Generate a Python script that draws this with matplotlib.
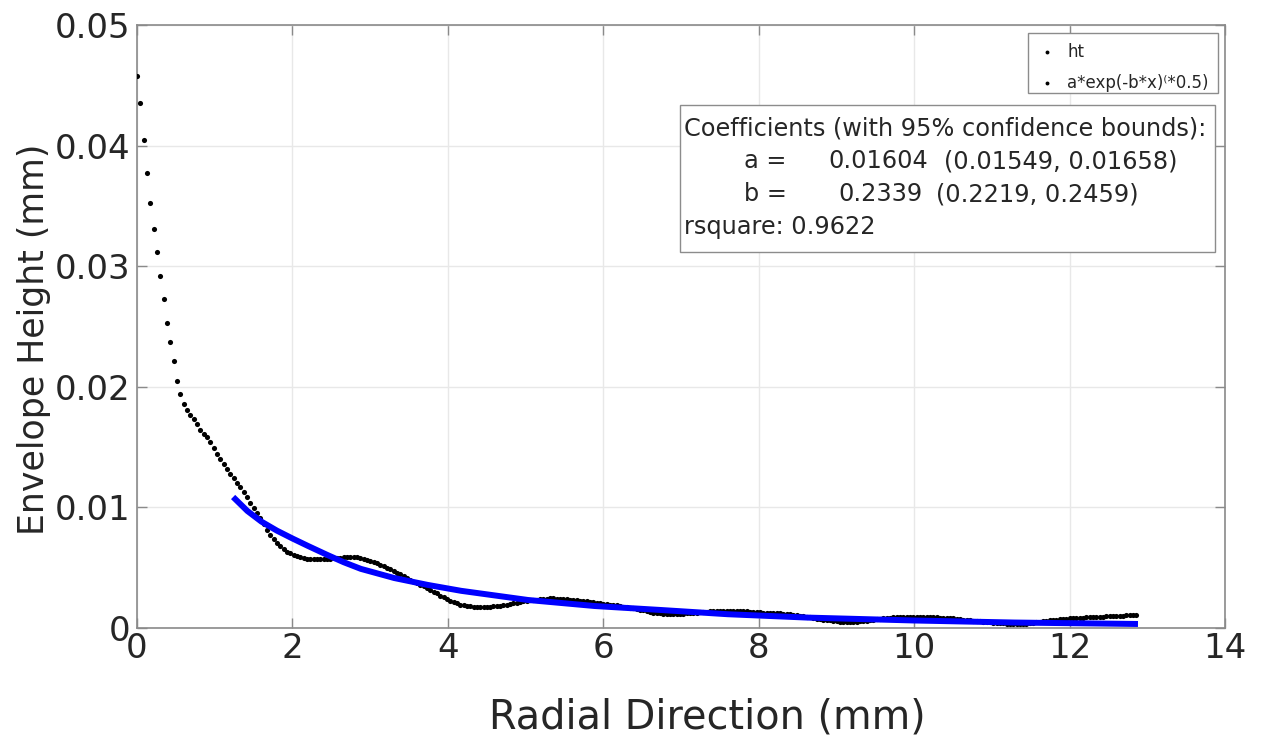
import numpy as np
import matplotlib
matplotlib.use("Agg")
import matplotlib.pyplot as plt
from matplotlib.patches import Rectangle

# Measured envelope height (micrometres), sampled uniformly from 0 to 12.86 mm
ht_um = [
    45.8, 43.5, 40.5, 37.75, 35.2, 33.1, 31.2, 29.2, 27.3, 25.3,
    23.7, 22.1, 20.5, 19.4, 18.6, 18.1, 17.7, 17.3, 16.9, 16.4,
    16.1, 15.85, 15.4, 14.9, 14.45, 14.0, 13.6, 13.15, 12.75, 12.4,
    12.05, 11.65, 11.25, 10.85, 10.4, 9.98, 9.53, 9.08, 8.62, 8.13,
    7.71, 7.36, 7.05, 6.76, 6.55, 6.34, 6.2, 6.08, 5.97, 5.89,
    5.80, 5.76, 5.73, 5.72, 5.71, 5.71, 5.72, 5.72, 5.74, 5.77,
    5.80, 5.83, 5.85, 5.87, 5.89, 5.90, 5.87, 5.82, 5.74, 5.66,
    5.58, 5.51, 5.38, 5.25, 5.12, 4.99, 4.86, 4.72, 4.58, 4.44,
    4.29, 4.16, 3.99, 3.85, 3.72, 3.59, 3.46, 3.33, 3.18, 3.02,
    2.86, 2.69, 2.54, 2.40, 2.25, 2.13, 2.03, 1.94, 1.88, 1.84,
    1.80, 1.77, 1.75, 1.73, 1.72, 1.73, 1.76, 1.79, 1.82, 1.85,
    1.87, 1.93, 1.99, 2.04, 2.10, 2.15, 2.21, 2.26, 2.30, 2.33,
    2.36, 2.39, 2.42, 2.44, 2.45, 2.45, 2.44, 2.42, 2.40, 2.38,
    2.36, 2.33, 2.30, 2.27, 2.24, 2.21, 2.17, 2.13, 2.08, 2.04,
    2.00, 1.96, 1.94, 1.91, 1.87, 1.82, 1.77, 1.72, 1.67, 1.62,
    1.56, 1.51, 1.45, 1.38, 1.32, 1.27, 1.24, 1.21, 1.18, 1.16,
    1.15, 1.15, 1.15, 1.16, 1.18, 1.20, 1.22, 1.25, 1.28, 1.30,
    1.33, 1.35, 1.37, 1.38, 1.39, 1.40, 1.40, 1.41, 1.41, 1.41,
    1.41, 1.40, 1.38, 1.37, 1.35, 1.33, 1.31, 1.29, 1.28, 1.27,
    1.25, 1.24, 1.22, 1.20, 1.18, 1.15, 1.12, 1.09, 1.06, 1.02,
    0.97, 0.93, 0.88, 0.83, 0.78, 0.74, 0.70, 0.66, 0.62, 0.58,
    0.55, 0.52, 0.50, 0.48, 0.47, 0.47, 0.50, 0.54, 0.58, 0.61,
    0.65, 0.69, 0.72, 0.76, 0.79, 0.83, 0.86, 0.88, 0.90, 0.91,
    0.92, 0.93, 0.94, 0.94, 0.94, 0.94, 0.93, 0.92, 0.91, 0.90,
    0.88, 0.86, 0.85, 0.84, 0.82, 0.79, 0.76, 0.73, 0.70, 0.67,
    0.64, 0.60, 0.57, 0.55, 0.52, 0.50, 0.48, 0.45, 0.43, 0.40,
    0.38, 0.36, 0.35, 0.34, 0.33, 0.34, 0.35, 0.37, 0.40, 0.43,
    0.47, 0.51, 0.55, 0.59, 0.63, 0.66, 0.68, 0.71, 0.74, 0.76,
    0.79, 0.81, 0.82, 0.84, 0.86, 0.88, 0.89, 0.91, 0.93, 0.94,
    0.95, 0.97, 0.98, 0.99, 1.00, 1.02, 1.03, 1.04, 1.05, 1.07,
    1.08,
]
radial_mm = np.linspace(0.0, 12.86, len(ht_um))
ht_mm = np.array(ht_um) * 1e-3

# Fitted curve (micrometres)
fit_x_mm = [1.236, 1.42, 1.60, 1.80, 2.0, 2.2, 2.45, 2.66, 2.88, 3.31,
            3.74, 4.17, 5.03, 5.89, 6.74, 7.60, 8.63, 10.0, 11.29, 12.88]
fit_y_um = [10.86, 9.70, 8.82, 8.07, 7.42, 6.80, 6.05, 5.45, 4.90, 4.14,
            3.57, 3.08, 2.32, 1.82, 1.49, 1.14, 0.86, 0.62, 0.45, 0.33]
fit_y_mm = np.array(fit_y_um) * 1e-3

x_ticks = [0, 2, 4, 6, 8, 10, 12, 14]
y_ticks = [0, 0.01, 0.02, 0.03, 0.04, 0.05]
y_tick_labels = ["0", "0.01", "0.02", "0.03", "0.04", "0.05"]

plt.rcParams["font.family"] = ["DejaVu Sans"]
text_color = "#262626"
axis_color = "#8a8a8a"
box_color = "#8c8c8c"

fig = plt.figure(figsize=(12.62, 7.40), dpi=100)
ax = fig.add_axes([0.1086, 0.1514, 0.8621, 0.8148])

ax.plot(radial_mm, ht_mm, linestyle="none", marker="o", markersize=3.7,
        markeredgewidth=0, color="black", zorder=3)
ax.plot(fit_x_mm, fit_y_mm, color="#0000ff", linewidth=4.3,
        solid_capstyle="butt", solid_joinstyle="round", zorder=4)

ax.set_xlim(0, 14)
ax.set_ylim(0, 0.05)
ax.set_xticks(x_ticks)
ax.set_xticklabels([str(t) for t in x_ticks])
ax.set_yticks(y_ticks)
ax.set_yticklabels(y_tick_labels)

ax.grid(True, color="#e8e8e8", linewidth=1.0)
ax.set_axisbelow(True)
for sp in ax.spines.values():
    sp.set_color(axis_color)
    sp.set_linewidth(1.2)
ax.tick_params(axis="both", which="both", direction="in", length=7,
               width=1.0, color=axis_color, labelsize=24.5,
               labelcolor=text_color, top=True, right=True)
ax.tick_params(axis="x", pad=3)
ax.tick_params(axis="y", pad=5)

ax.set_xlabel("Radial Direction (mm)", fontsize=28.6, color=text_color)
ax.set_ylabel("Envelope Height (mm)", fontsize=25, color=text_color)
ax.xaxis.set_label_coords(0.524, -0.115)
ax.yaxis.set_label_coords(-0.079, 0.478)

# Legend box
ax.add_patch(Rectangle((0.819, 0.887), 0.1746, 0.0997, transform=ax.transAxes,
                       facecolor="white", edgecolor=box_color, linewidth=1.0,
                       zorder=5))
ax.plot([0.836], [0.956], transform=ax.transAxes, linestyle="none", marker="o",
        markersize=2.8, markeredgewidth=0, color="black", zorder=6, clip_on=False)
ax.plot([0.836], [0.903], transform=ax.transAxes, linestyle="none", marker="o",
        markersize=2.8, markeredgewidth=0, color="black", zorder=6, clip_on=False)
lkw = dict(transform=ax.transAxes, fontsize=12, color=text_color,
           va="center", ha="left", zorder=6, clip_on=False)
ax.text(0.855, 0.956, "ht", **lkw)
ax.text(0.855, 0.903, "a*exp(-b*x)\u207d*0.5)", **lkw)

# Coefficient box
ax.add_patch(Rectangle((0.499, 0.624), 0.492, 0.243, transform=ax.transAxes,
                       facecolor="white", edgecolor=box_color, linewidth=1.0,
                       zorder=5))
tkw = dict(transform=ax.transAxes, fontsize=17.3, color=text_color,
           va="center", ha="left", zorder=6)
row_y = [0.829, 0.774, 0.719, 0.665]
ax.text(0.503, row_y[0], "Coefficients (with 95% confidence bounds):", **tkw)
ax.text(0.5575, row_y[1], "a =", **tkw)
ax.text(0.635, row_y[1], "0.01604", **tkw)
ax.text(0.742, row_y[1], "(0.01549, 0.01658)", **tkw)
ax.text(0.5575, row_y[2], "b =", **tkw)
ax.text(0.645, row_y[2], "0.2339", **tkw)
ax.text(0.734, row_y[2], "(0.2219, 0.2459)", **tkw)
ax.text(0.503, row_y[3], "rsquare: 0.9622", **tkw)

fig.savefig("out.png", dpi=100, facecolor="white")
